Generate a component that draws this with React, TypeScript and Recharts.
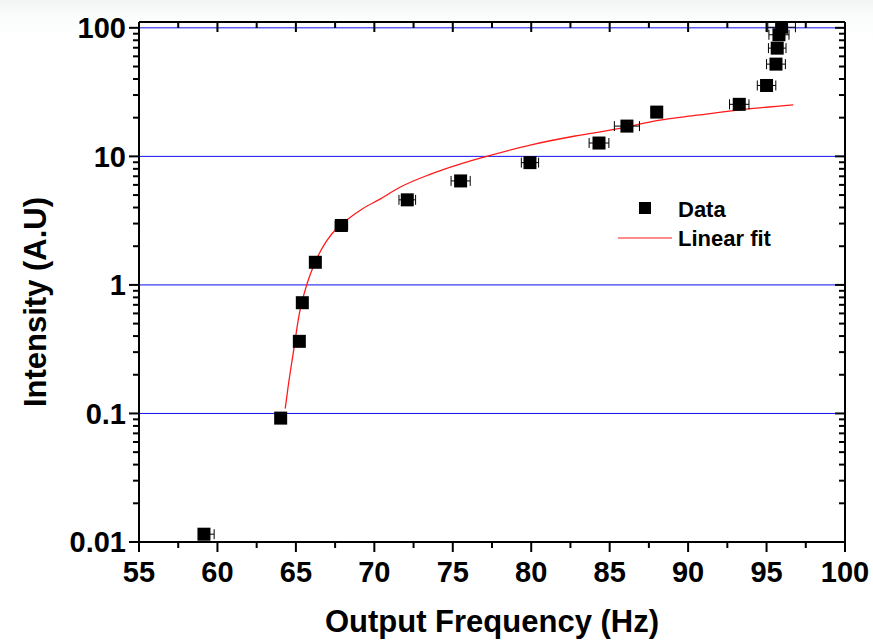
import React from "react";
import {
  ComposedChart,
  XAxis,
  YAxis,
  Scatter,
  Line,
  ErrorBar,
  ReferenceLine,
  ReferenceDot,
  Legend,
} from "recharts";

const FONT = "'Liberation Sans', Arial, Helvetica, sans-serif";
const BLUE = "#1010f0";
const RED = "#ff1a1a";
const W = 873;
const H = 643;
const MARGIN = { top: 22, right: 28, bottom: 0, left: 0 };

// measured points
const freq = [59.14, 64.03, 65.22, 65.41, 66.24, 67.9, 72.1, 75.5, 79.92, 84.32, 86.1, 88.0, 93.26, 95.0, 95.6, 95.68, 95.79, 95.96];
const intensity = [0.0115, 0.092, 0.364, 0.727, 1.5, 2.9, 4.59, 6.44, 8.94, 12.7, 17.2, 22.1, 25.4, 35.6, 52.2, 69.5, 88.3, 101];
const freqErrLow = [0, 0.3, 0.3, 0.3, 0.3, 0.4, 0.53, 0.61, 0.55, 0.63, 0.8, 0.35, 0.62, 0.59, 0.6, 0.56, 0.64, 0.88];
const freqErrHigh = [0.65, 0.3, 0.3, 0.3, 0.3, 0.4, 0.53, 0.61, 0.55, 0.63, 0.8, 0.35, 0.62, 0.59, 0.6, 0.56, 0.64, 0.88];

// fit curve
const fitFreq = [64.32, 64.5, 64.84, 65.2, 65.69, 66.33, 66.96, 67.6, 68.24, 69.3, 70.36, 71.63, 73.55, 75.3, 77.16, 80, 82.8, 85.66, 88, 90.6, 93.26, 96.7];
const fitIntensity = [0.109, 0.16, 0.3, 0.58, 1.0, 1.6, 2.2, 2.75, 3.2, 3.95, 4.65, 5.75, 7.25, 8.6, 10, 12.3, 14.4, 16.5, 19.0, 20.9, 23.0, 25.2];

const xMajor = [55, 60, 65, 70, 75, 80, 85, 90, 95, 100];
const xMinor = [57.5, 62.5, 67.5, 72.5, 77.5, 82.5, 87.5, 92.5, 97.5];
const yMajor = [0.01, 0.1, 1, 10, 100];
const yMajorLabels = ["0.01", "0.1", "1", "10", "100"];
const yMinorSteps = [2, 3, 4, 5, 6, 7, 8, 9];
const X_DOMAIN = [55, 100];
const Y_DOMAIN = [0.01, 111];

const points = freq.map((x, i) => ({
  x,
  y: intensity[i],
  err: [freqErrLow[i], freqErrHigh[i]],
}));
const fit = fitFreq.map((x, i) => ({ x, y: fitIntensity[i] }));

const xTicks = [...xMajor, ...xMinor].sort((a, b) => a - b);
const yTicks = [
  ...yMajor,
  ...yMajor.slice(0, -1).flatMap((d) => yMinorSteps.map((m) => +(m * d).toPrecision(3))),
].sort((a, b) => a - b);

const isMajorX = (v: number) => xMajor.includes(v);
const isMajorY = (v: number) => yMajor.some((m) => Math.abs(m - v) < 1e-9);

function XTick(props: any) {
  const { x, y, payload } = props;
  const major = isMajorX(payload.value);
  const len = major ? 10 : 6;
  return (
    <g>
      <line x1={x} x2={x} y1={y} y2={y + len} stroke="#000" strokeWidth={2} />
      {major && (
        <text x={x} y={y + 40} textAnchor="middle" fontFamily={FONT} fontWeight="bold" fontSize={29} fill="#000">
          {payload.value}
        </text>
      )}
    </g>
  );
}

function YTick(props: any) {
  const { x, y, payload } = props;
  const major = isMajorY(payload.value);
  const len = major ? 10 : 6;
  const label = yMajorLabels[yMajor.findIndex((m) => Math.abs(m - payload.value) < 1e-9)];
  return (
    <g>
      <line x1={x} x2={x - len} y1={y} y2={y} stroke="#000" strokeWidth={2} />
      {major && (
        <text x={x - len - 3} y={y} dy="0.36em" textAnchor="end" fontFamily={FONT} fontWeight="bold" fontSize={29} fill="#000">
          {label}
        </text>
      )}
    </g>
  );
}

// inward ticks on the top and right frame
const TopTick = (len: number) => (p: any) =>
  <line x1={p.cx} x2={p.cx} y1={p.cy} y2={p.cy + len} stroke="#000" strokeWidth={2} />;
const RightTick = (len: number) => (p: any) =>
  <line x1={p.cx} x2={p.cx - len} y1={p.cy} y2={p.cy} stroke="#000" strokeWidth={2} />;

function Square(props: any) {
  const { cx, cy } = props;
  return <rect x={cx - 6.5} y={cy - 6.5} width={13} height={13} fill="#000" />;
}

function LegendBox() {
  return (
    <svg width={200} height={64}>
      <rect x={29} y={12} width={12} height={12} fill="#000" />
      <text x={68} y={27} fontFamily={FONT} fontWeight="bold" fontSize={22} fill="#000">Data</text>
      <line x1={8} x2={62} y1={48} y2={48} stroke={RED} strokeWidth={1.2} />
      <text x={68} y={56} fontFamily={FONT} fontWeight="bold" fontSize={22} fill="#000">Linear fit</text>
    </svg>
  );
}

export default function App() {
  return (
    <div
      style={{
        position: "absolute",
        left: 0,
        top: 0,
        width: W,
        height: H,
        background: "linear-gradient(#f2f4f4 0px, #fbfcfc 16px, #ffffff 40px)",
      }}
    >
      <ComposedChart width={W} height={H} margin={MARGIN}>
        <XAxis
          xAxisId="b"
          type="number"
          dataKey="x"
          domain={X_DOMAIN}
          allowDataOverflow
          ticks={xTicks}
          interval={0}
          height={101}
          tickSize={0}
          tickMargin={0}
          tickLine={false}
          axisLine={{ stroke: "#000", strokeWidth: 2 }}
          tick={<XTick />}
          label={{
            content: ({ viewBox }: any) => (
              <text
                x={viewBox.x + viewBox.width / 2}
                y={viewBox.y + 90}
                textAnchor="middle"
                fontFamily={FONT}
                fontWeight="bold"
                fontSize={31}
                fill="#000"
              >
                Output Frequency (Hz)
              </text>
            ),
          }}
        />
        <YAxis
          yAxisId="l"
          type="number"
          scale="log"
          dataKey="y"
          domain={Y_DOMAIN}
          allowDataOverflow
          ticks={yTicks}
          interval={0}
          width={139}
          tickSize={0}
          tickMargin={0}
          tickLine={false}
          axisLine={{ stroke: "#000", strokeWidth: 2 }}
          tick={<YTick />}
          label={{
            content: ({ viewBox }: any) => {
              const cx = 35;
              const cy = viewBox.y + viewBox.height / 2 + 20;
              return (
                <text
                  x={cx}
                  y={cy}
                  transform={`rotate(-90 ${cx} ${cy})`}
                  textAnchor="middle"
                  dy="0.36em"
                  fontFamily={FONT}
                  fontWeight="bold"
                  fontSize={31}
                  fill="#000"
                >
                  Intensity (A.U)
                </text>
              );
            },
          }}
        />
        {yMajor.slice(1).map((v) => (
          <ReferenceLine key={v} xAxisId="b" yAxisId="l" y={v} stroke={BLUE} strokeWidth={1} />
        ))}
        {/* top and right frame */}
        <ReferenceLine xAxisId="b" yAxisId="l" y={Y_DOMAIN[1]} stroke="#000" strokeWidth={2} />
        <ReferenceLine xAxisId="b" yAxisId="l" x={X_DOMAIN[1]} stroke="#000" strokeWidth={2} />
        {xTicks.map((v) => (
          <ReferenceDot
            key={`t${v}`}
            xAxisId="b"
            yAxisId="l"
            x={v}
            y={Y_DOMAIN[1]}
            ifOverflow="visible"
            shape={TopTick(isMajorX(v) ? 10 : 6)}
          />
        ))}
        {yTicks.map((v) => (
          <ReferenceDot
            key={`r${v}`}
            xAxisId="b"
            yAxisId="l"
            x={X_DOMAIN[1]}
            y={v}
            ifOverflow="visible"
            shape={RightTick(isMajorY(v) ? 10 : 6)}
          />
        ))}
        <Line
          xAxisId="b"
          yAxisId="l"
          data={fit}
          dataKey="y"
          type="monotone"
          stroke={RED}
          strokeWidth={1.3}
          dot={false}
          isAnimationActive={false}
        />
        <Scatter xAxisId="b" yAxisId="l" data={points} dataKey="y" shape={<Square />} isAnimationActive={false}>
          <ErrorBar dataKey="err" direction="x" width={5} stroke="#000" strokeWidth={1} />
        </Scatter>
        <Legend
          layout="horizontal"
          verticalAlign="middle"
          align="center"
          content={() => <LegendBox />}
          wrapperStyle={{ position: "absolute", left: 610, top: 190, width: 200, height: 64 }}
        />
      </ComposedChart>
    </div>
  );
}
